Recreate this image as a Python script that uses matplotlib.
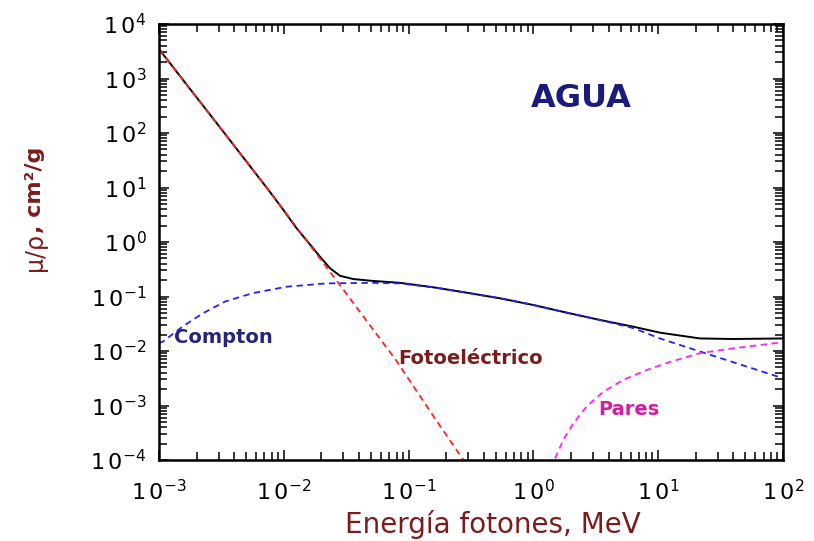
import numpy as np
import matplotlib
matplotlib.use("Agg")
import matplotlib.pyplot as plt
from matplotlib.ticker import LogLocator, FuncFormatter, NullFormatter

# coeficientes de atenuación del agua, energía en MeV
e_total = [0.001, 0.00316, 0.00774, 0.00991, 0.01268, 0.01622, 0.0195,
           0.02344, 0.02818, 0.03606, 0.04909, 0.0853, 0.1578, 0.2917,
           0.5395, 1.0, 1.849, 3.42, 6.32, 10.33, 21.6, 39.8, 100.0]
mu_total = [3467, 117.5, 8.32, 3.89, 1.78, 0.90, 0.537,
            0.331, 0.240, 0.209, 0.195, 0.178, 0.1476, 0.1175,
            0.0927, 0.0698, 0.0505, 0.0371, 0.0279, 0.0217, 0.0170, 0.0166, 0.0170]

e_foto = [0.001, 0.00316, 0.00774, 0.02818, 0.0794, 0.1585, 0.275]
mu_foto = [3467, 117.5, 8.3, 0.162, 0.00676, 6.3e-4, 1.0e-4]

e_compton = [0.001, 0.00107, 0.00155, 0.00224, 0.00339, 0.00562, 0.0105,
             0.0219, 0.0513, 0.0853, 0.1578, 0.2917, 0.5395, 1.0, 1.849,
             3.42, 6.32, 10.33, 21.6, 100.0]
mu_compton = [0.0140, 0.0148, 0.0282, 0.049, 0.081, 0.115, 0.151,
              0.174, 0.178, 0.174, 0.1476, 0.1175, 0.0927, 0.0698, 0.0505,
              0.0371, 0.0263, 0.0170, 0.0098, 0.00316]

e_pares = [1.49, 1.738, 2.089, 2.667, 3.63, 5.25, 8.07, 12.45, 21.6, 39.8, 100.0]
mu_pares = [1.07e-4, 2.34e-4, 4.68e-4, 9.55e-4, 1.78e-3, 2.95e-3, 4.47e-3,
            6.31e-3, 9.12e-3, 0.0112, 0.0145]

W, H = 814, 541
fig = plt.figure(figsize=(W / 100, H / 100), dpi=100)
ax = fig.add_axes([159 / W, 1 - 460 / H, (783 - 159) / W, (460 - 24) / H])

dash = (0, (3.5, 2.5))
ax.plot(e_total, mu_total, color="black", lw=1.4)
ax.plot(e_foto, mu_foto, color="#ff2020", lw=1.3, ls=dash)
ax.plot(e_compton, mu_compton, color="#2020ff", lw=1.3, ls=dash)
ax.plot(e_pares, mu_pares, color="#ff20ff", lw=1.3, ls=dash)

ax.set_xscale("log")
ax.set_yscale("log")
ax.set_xlim(1e-3, 1e2)
ax.set_ylim(1e-4, 1e4)

for axis in (ax.xaxis, ax.yaxis):
    axis.set_major_locator(LogLocator(base=10, numticks=20))
    axis.set_minor_locator(LogLocator(base=10, subs=np.arange(2, 10), numticks=100))
    axis.set_minor_formatter(NullFormatter())
    axis.set_major_formatter(FuncFormatter(
        lambda v, p: r"$\mathregular{1\,0^{%d}}$" % round(np.log10(v))))

ax.tick_params(which="both", direction="in", top=True, right=True,
               width=1.1, labelsize=16, color="black")
ax.tick_params(which="major", length=7)
ax.tick_params(which="minor", length=5.5)
ax.tick_params(axis="x", pad=14)
ax.tick_params(axis="y", pad=9)
for s in ax.spines.values():
    s.set_linewidth(1.8)

rojo = "#7b1c1c"
ax.set_xlabel("Energía fotones, MeV", fontsize=20, color=rojo, labelpad=4)
ax.xaxis.label.set_x(0.535)

# etiqueta del eje y: "μ/ρ" normal y ", cm²/g" en negrita
fig.text(35 / W, 1 - 233 / H, "μ/ρ", rotation=90, fontsize=17, color=rojo,
         ha="center", va="top")
fig.text(35 / W, 1 - 233 / H, ", cm²/g", rotation=90, fontsize=16, color=rojo,
         fontweight="bold", ha="center", va="bottom")

ax.text(2.4, 436, "AGUA", fontsize=23, fontweight="bold", color="#1a1a7a",
        ha="center", va="center")
ax.text(0.00132, 0.018, "Compton", fontsize=14, fontweight="bold",
        color="#25257a", ha="left", va="center")
ax.text(0.0822, 0.0074, "Fotoeléctrico", fontsize=14, fontweight="bold",
        color=rojo, ha="left", va="center")
ax.text(3.31, 8.3e-4, "Pares", fontsize=14, fontweight="bold",
        color="#d020a0", ha="left", va="center")

fig.savefig("out.png", dpi=100)
